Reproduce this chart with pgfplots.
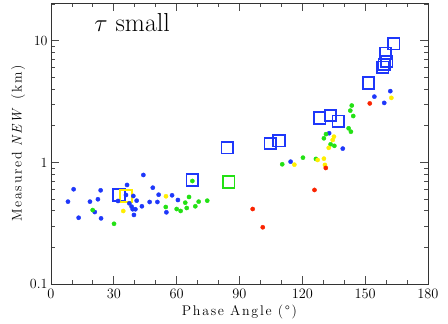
\documentclass[border=0pt]{standalone}
\usepackage{fontspec}
\usepackage{pgfplots}
\pgfplotsset{compat=1.18}

\definecolor{ptblue}{RGB}{30,55,250}
\definecolor{ptgreen}{RGB}{35,225,20}
\definecolor{ptyellow}{RGB}{255,238,0}
\definecolor{ptred}{RGB}{250,35,0}

\newfontfamily\labfont[LetterSpace=12]{Latin Modern Roman}

\begin{document}
\begin{tikzpicture}
\begin{axis}[
  scale only axis, width=377bp, height=281bp,
  xmin=0, xmax=180,
  ymode=log, ymin=0.1, ymax=20.5,
  xtick={0,30,...,180}, minor x tick num=2,
  ytick={0.1,1,10}, yticklabels={0.1,1,10},
  minor ytick={0.2,0.3,0.4,0.5,0.6,0.7,0.8,0.9,2,3,4,5,6,7,8,9,20},
  major tick length=8bp, minor tick length=4bp,
  tick align=inside,
  axis line style={black!80, line width=0.8bp},
  every tick/.style={black!70, line width=0.8bp},
  tick label style={font=\fontsize{14bp}{16bp}\selectfont},
  xticklabel style={yshift=-2bp},
  xlabel={\labfont\fontsize{14bp}{16bp}\selectfont Phase Angle (°)},
  ylabel={\labfont\fontsize{14bp}{16bp}\selectfont Measured \textit{NEW} (km)},
  xlabel style={yshift=1bp},
  ylabel style={yshift=-2bp},
  clip=false,
]
\coordinate (ll) at (rel axis cs:0,0);
\coordinate (ur) at (rel axis cs:1,1);
\node[anchor=base west, font=\fontsize{26bp}{28bp}\selectfont]
  at (rel axis cs:0.106,0.897) {$\tau$ \addfontfeature{LetterSpace=10}small};

% squares
\addplot[only marks, mark=square, mark size=5.8bp, ptblue, mark options={line width=1.8bp}] coordinates {
  (32.5,0.540)(67.5,0.718)(84.2,1.32)(104.7,1.43)(108.9,1.51)
  (128.3,2.32)(133.4,2.43)(137.2,2.18)(151.6,4.49)(158.4,6.07)
  (159.1,6.41)(160.3,6.76)(159.7,7.92)(163.6,9.50)};
\addplot[only marks, mark=square, mark size=5.8bp, ptgreen, mark options={line width=1.8bp}] coordinates {
  (84.8,0.691)};
\addplot[only marks, mark=square, mark size=5.8bp, ptyellow, mark options={line width=1.8bp}] coordinates {
  (35.8,0.530)};

% dots
\addplot[only marks, mark=*, mark size=2.1bp, ptblue, mark options={draw=ptblue, fill=ptblue}] coordinates {
  (8.1,0.476)(10.8,0.602)(13.2,0.351)(18.6,0.476)(20.9,0.391)
  (22.4,0.498)(23.7,0.590)(23.9,0.347)(32.0,0.482)(36.3,0.653)
  (35.8,0.540)(37.4,0.461)(38.5,0.433)(39.3,0.530)(39.0,0.412)
  (39.6,0.370)(40.3,0.412)(40.9,0.485)(43.4,0.436)(44.1,0.789)
  (47.1,0.473)(48.6,0.620)(50.8,0.473)(51.4,0.543)(55.1,0.389)
  (57.8,0.537)(60.6,0.491)(114.4,1.015)(132.8,1.74)(139.3,1.30)
  (154.4,3.48)(159.1,3.09)(162.0,3.86)};
\addplot[only marks, mark=*, mark size=2.1bp, ptgreen, mark options={draw=ptgreen, fill=ptgreen}] coordinates {
  (19.9,0.406)(30.1,0.313)(54.8,0.430)(60.0,0.414)(61.9,0.399)
  (64.1,0.467)(64.8,0.422)(65.9,0.520)(68.9,0.436)(70.5,0.476)
  (74.6,0.485)(67.5,0.704)(110.4,0.966)(120.3,1.095)(126.5,1.069)
  (130.3,1.58)(131.3,1.71)(133.5,1.41)(135.3,1.37)(142.1,1.91)
  (143.2,1.79)(142.9,2.67)(143.6,2.94)(144.3,2.41)};
\addplot[only marks, mark=*, mark size=2.1bp, ptyellow, mark options={draw=ptyellow, fill=ptyellow}] coordinates {
  (34.5,0.399)(54.9,0.527)(116.2,0.959)(127.3,1.048)(130.3,1.075)
  (130.8,0.954)(135.1,1.63)(134.5,1.53)(132.6,1.32)(162.5,3.40)};
\addplot[only marks, mark=*, mark size=2.1bp, ptred, mark options={draw=ptred, fill=ptred}] coordinates {
  (96.3,0.414)(101.1,0.293)(125.8,0.594)(131.2,0.901)(152.2,3.06)};
\end{axis}
\pgfresetboundingbox
\path[use as bounding box] ([xshift=-51bp,yshift=-39bp]ll) rectangle ([xshift=20bp,yshift=3bp]ur);
\end{tikzpicture}
\end{document}
